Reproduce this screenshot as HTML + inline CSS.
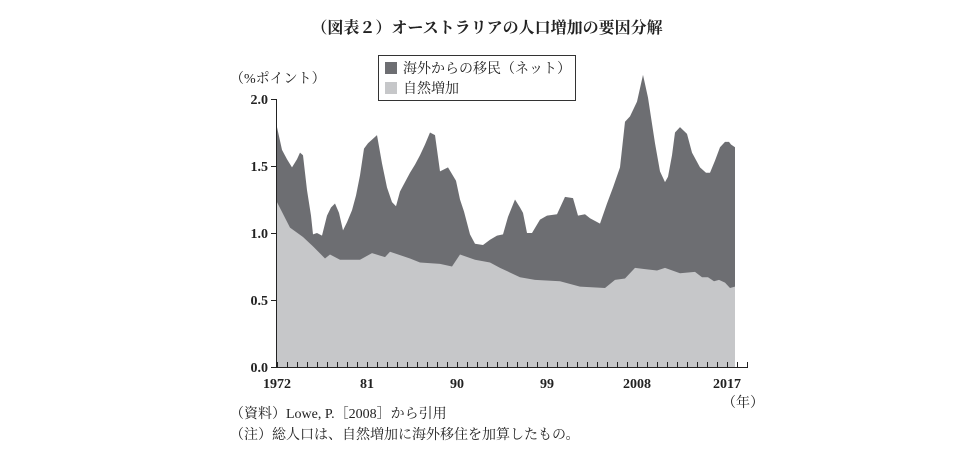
<!DOCTYPE html>
<html><head><meta charset="utf-8">
<style>
body{margin:0;background:#fff;width:974px;height:455px;overflow:hidden;font-family:"Liberation Serif","Noto Serif CJK SC",serif;color:#222;}
svg text{font-family:"Liberation Serif","Noto Serif CJK SC",serif;fill:#222;}
</style></head><body>
<svg width="974" height="455">
<text x="487" y="33" text-anchor="middle" font-size="16" font-weight="bold">（図表２）オーストラリアの人口増加の要因分解</text>
<text x="230" y="83" font-size="14">（%ポイント）</text>
<g id="plot"></g>
<g id="axes"></g>
<g>
<rect x="378.5" y="55.5" width="197" height="45" fill="#fff" stroke="#333"/>
<rect x="385" y="62" width="12" height="12" fill="#6d6e72"/>
<text x="403" y="73" font-size="14">海外からの移民（ネット）</text>
<rect x="385" y="82" width="12" height="12" fill="#c6c7c9"/>
<text x="403" y="93" font-size="14">自然増加</text>
</g>
<text x="722" y="407" font-size="14">（年）</text>
<text x="230" y="418" font-size="14">（資料）Lowe, P.［2008］から引用</text>
<text x="230" y="439" font-size="14">（注）総人口は、自然増加に海外移住を加算したもの。</text>
</svg>
<script>
const totalYears=[1972,1972.5,1973,1973.5,1974,1974.3,1974.6,1975,1975.4,1975.6,1976,1976.5,1977,1977.4,1977.8,1978.2,1978.6,1979,1979.5,1979.9,1980.3,1980.7,1981.1,1982,1982.5,1983,1983.5,1983.9,1984.3,1984.8,1985.3,1985.8,1986.3,1986.8,1987.3,1987.8,1988.3,1989.1,1989.9,1990.3,1990.7,1991.3,1991.8,1992.6,1993.3,1994,1994.6,1995.1,1995.8,1996.3,1996.6,1997,1997.5,1998.3,1999,2000,2000.8,2001.6,2002.1,2002.8,2003.3,2004.3,2005,2005.6,2006.3,2006.8,2007.3,2008,2008.6,2009.1,2009.8,2010.3,2010.8,2011.1,2011.5,2011.8,2012.3,2013,2013.5,2014.3,2014.9,2015.3,2015.8,2016.3,2016.8,2017.2,2017.4,2017.8];
const totalValues=[1.79,1.62,1.55,1.49,1.55,1.60,1.58,1.32,1.13,0.99,1.00,0.98,1.13,1.19,1.22,1.15,1.02,1.08,1.17,1.28,1.43,1.63,1.67,1.73,1.52,1.34,1.23,1.20,1.31,1.38,1.45,1.51,1.58,1.66,1.75,1.73,1.46,1.49,1.39,1.25,1.16,0.99,0.92,0.91,0.95,0.98,0.99,1.12,1.25,1.19,1.15,1.00,1.00,1.10,1.13,1.14,1.27,1.26,1.13,1.14,1.11,1.07,1.22,1.34,1.49,1.83,1.87,1.98,2.18,2.01,1.67,1.46,1.38,1.42,1.58,1.75,1.79,1.74,1.60,1.49,1.45,1.45,1.54,1.64,1.68,1.68,1.66,1.64];
const naturalYears=[1972,1973.3,1974.6,1975.6,1976.8,1977.3,1978.3,1980.3,1981.5,1982.8,1983.3,1985.3,1986.3,1988.3,1989.5,1990.3,1991.8,1993.3,1994.3,1996.3,1997.8,2000.3,2002.3,2004.8,2005.8,2006.8,2007.8,2008.8,2010,2010.8,2012.3,2013.8,2014.5,2015.1,2015.7,2016.2,2016.8,2017.3,2017.8];
const naturalValues=[1.23,1.04,0.97,0.90,0.81,0.84,0.80,0.80,0.85,0.82,0.86,0.81,0.78,0.77,0.75,0.84,0.80,0.78,0.74,0.67,0.65,0.64,0.60,0.59,0.65,0.66,0.74,0.73,0.72,0.74,0.70,0.71,0.67,0.67,0.64,0.65,0.63,0.59,0.60];
const yTicks=[0,0.5,1,1.5,2];
const yTickLabels=["0.0","0.5","1.0","1.5","2.0"];
const xLabelYears=[1972,1981,1990,1999,2008,2017];
const xLabels=["1972","81","90","99","2008","2017"];

const NS="http://www.w3.org/2000/svg";
const xs=y=>277+(y-1972)*10;
const ys=v=>367-v*134;
function mk(t,a,p){const e=document.createElementNS(NS,t);for(const k in a)e.setAttribute(k,a[k]);p.appendChild(e);return e;}
const plot=document.getElementById('plot'),axes=document.getElementById('axes');
function area(yrs,vals){let d=`M${xs(yrs[0])},${ys(0)}`;yrs.forEach((y,i)=>d+=` L${xs(y)},${ys(vals[i])}`);d+=` L${xs(yrs[yrs.length-1])},${ys(0)} Z`;return d;}
const a1=mk('path',{d:area(totalYears,totalValues),fill:'#6d6e72'},plot);


const a2=mk('path',{d:area(naturalYears,naturalValues),fill:'#c6c7c9'},plot);


mk('line',{x1:276.5,y1:99,x2:276.5,y2:367.5,stroke:'#222','stroke-width':1},axes);
mk('line',{x1:276,y1:367.5,x2:748,y2:367.5,stroke:'#222','stroke-width':1},axes);
yTicks.forEach((v,i)=>{
  mk('line',{x1:271,y1:ys(v)+0.5,x2:277,y2:ys(v)+0.5,stroke:'#222'},axes);
  const t=mk('text',{x:268,y:ys(v)+5,'text-anchor':'end','font-size':14,'font-weight':'bold'},axes);t.textContent=yTickLabels[i];
  
  
});
for(let y=1972;y<=2019;y++){mk('line',{x1:xs(y)+0.5,y1:367,x2:xs(y)+0.5,y2:362,stroke:'#222'},axes);}
xLabelYears.forEach((y,i)=>{
  const t=mk('text',{x:xs(y),y:388,'text-anchor':'middle','font-size':14,'font-weight':'bold'},axes);t.textContent=xLabels[i];
  
  
});
</script>
</body></html>
